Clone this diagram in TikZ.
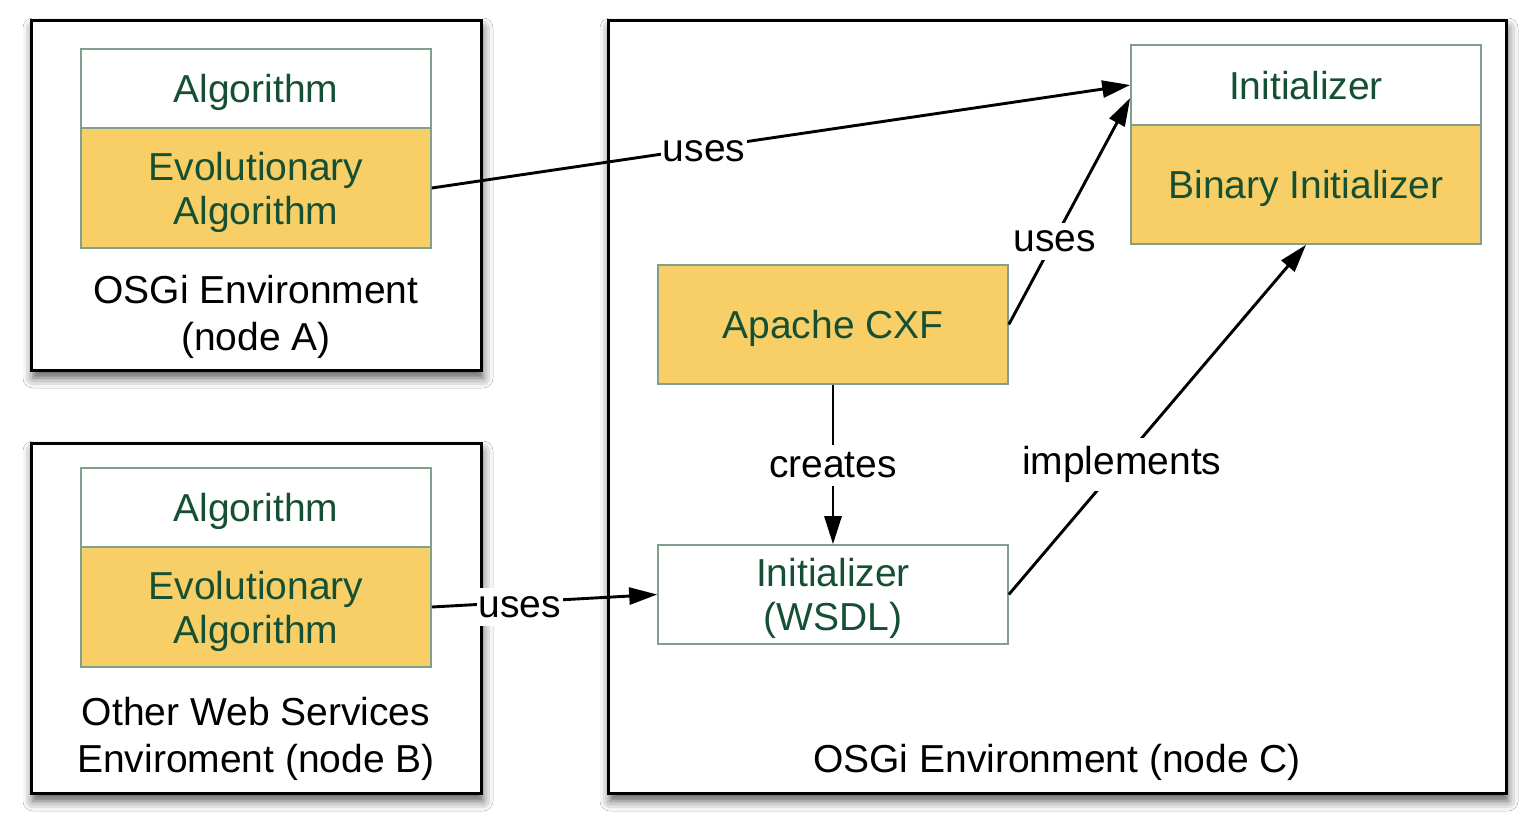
\documentclass[tikz,border=0pt]{standalone}
\usepackage{fontspec}
\setmainfont{Liberation Sans}
\usetikzlibrary{arrows.meta,shadows.blur,calc}
\definecolor{txtgreen}{RGB}{22,80,52}
\definecolor{boxgold}{RGB}{247,207,102}
\definecolor{boxline}{RGB}{128,160,140}
\begin{document}
\begin{tikzpicture}[x=0.5pt,y=-0.5pt,
  env/.style={draw=black, line width=1.5pt, fill=white, inner sep=0pt,
    minimum width=225pt, minimum height=175pt,
    blur shadow={shadow xshift=1pt, shadow yshift=-4pt, shadow blur radius=5pt, shadow opacity=65}},
  inbox/.style={draw=boxline, line width=0.8pt, text=txtgreen, align=center,
    minimum width=175pt, inner sep=0pt, text depth=0pt,
    font=\fontsize{19.5pt}{22pt}\selectfont},
  wbox/.style={inbox, fill=white},
  gbox/.style={inbox, fill=boxgold},
  envlbl/.style={align=center, text=black, inner sep=0pt, text depth=0pt,
    font=\fontsize{19.5pt}{23.5pt}\selectfont},
  lbl/.style={fill=white, text=black, inner xsep=1pt, inner ysep=4pt, yshift=-1.5pt,
    font=\fontsize{19.5pt}{22pt}\selectfont},
  arr/.style={-{Triangle[length=14pt,width=8.5pt]}, line width=1.45pt, black}]
\useasboundingbox (0,0) rectangle (1536,836);
\fill[white] (0,0) rectangle (1536,836);

% environments
\node[env] (envA) at (256,195) {};
\node[env] (envB) at (256,618) {};
\node[env, minimum width=449pt, minimum height=386.5pt] (envC) at (1057,406.5) {};

% node A
\node[wbox, minimum height=39.5pt] (algA) at (256,88.5) {Algorithm};
\node[gbox, minimum height=60pt] (evoA) at (256,188) {Evolutionary\\Algorithm};
\node[envlbl] (lblA) at (256,313) {OSGi Environment\\(node A)};

% node B
\node[wbox, minimum height=39.5pt] (algB) at (256,507.5) {Algorithm};
\node[gbox, minimum height=60pt] (evoB) at (256,607) {Evolutionary\\Algorithm};
\node[envlbl] (lblB) at (256,734.5) {Other Web Services\\Enviroment (node B)};

% node C
\node[wbox, minimum height=40pt] (initTop) at (1306,85) {Initializer};
\node[gbox, minimum height=59.5pt] (binary) at (1306,184.5) {Binary Initializer};
\node[gbox, minimum height=59.5pt] (apache) at (833,324.5) {Apache CXF};
\node[wbox, minimum height=49.5pt] (wsdl) at (833,594.5) {Initializer\\(WSDL)};
\node[envlbl] (lblC) at (1057,758) {OSGi Environment (node C)};

% connectors
\draw[arr] (evoA.east) -- node[lbl, pos=0.39] {uses} (initTop.west);
\draw[arr] (apache.east) -- node[lbl, pos=0.38] {uses} ($(initTop.west)+(0,13)$);
\draw[arr] (apache.south) -- node[lbl, pos=0.5, yshift=1pt] {creates} (wsdl.north);
\draw[arr] (wsdl.east) -- node[lbl, pos=0.38] {implements} (binary.south);
\draw[arr] (evoB.east) -- node[lbl, pos=0.39, yshift=-1pt] {uses} (wsdl.west);
\end{tikzpicture}
\end{document}
